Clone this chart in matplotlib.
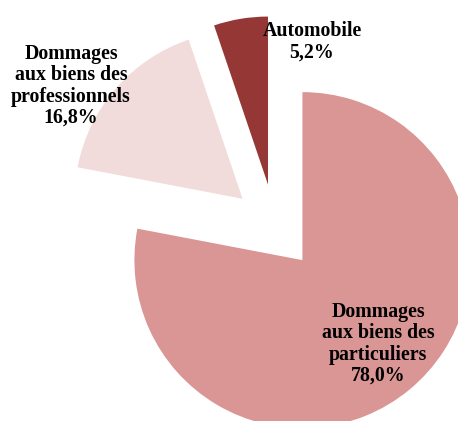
import matplotlib
matplotlib.use("Agg")
import matplotlib.pyplot as plt

# Data
categories = ["Dommages\naux biens des\nparticuliers", "Dommages\naux biens des\nprofessionnels", "Automobile"]
values = [78.0, 16.8, 5.2]
pct_labels = ["78,0%", "16,8%", "5,2%"]
colors = ["#D99694", "#F2DCDB", "#953735"]

W, H = 458, 421
fig = plt.figure(figsize=(W / 100, H / 100), dpi=100)
ax = fig.add_axes([0, 0, 1, 1])

radius = 168
center = (275, H - 227)
ax.pie(values, colors=colors, startangle=90, counterclock=False,
       explode=[43] * len(values), radius=radius, center=center,
       wedgeprops=dict(linewidth=0))
ax.set_xlim(0, W)
ax.set_ylim(0, H)
ax.set_aspect("equal")
ax.axis("off")

# label layout (image pixel coordinates of label centres)
label_pos = [(378, 344), (71, 86), (312, 42)]
for cat, pct, (x, y) in zip(categories, pct_labels, label_pos):
    ax.text(x, H - y, f"{cat}\n{pct}", ha="center", va="center",
            fontsize=14.3, fontweight="bold", family="Liberation Serif",
            linespacing=1.08, color="black")

fig.savefig("out.png", dpi=100)
